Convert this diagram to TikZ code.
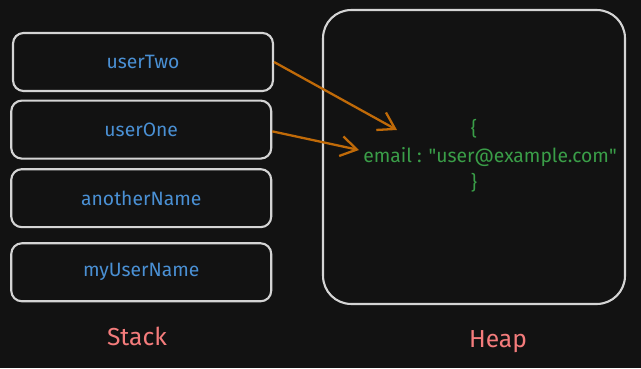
\documentclass[tikz,border=0pt]{standalone}
\usepackage{fontspec}
\setmainfont{Fira Sans}
\usetikzlibrary{arrows.meta,positioning}
\definecolor{bgdark}{HTML}{121212}
\definecolor{boxline}{HTML}{D4D4D4}
\definecolor{varblue}{HTML}{4A90D4}
\definecolor{objgreen}{HTML}{3A9E48}
\definecolor{refarrow}{HTML}{C06A08}
\definecolor{areared}{HTML}{F47C7C}

\begin{document}
\begin{tikzpicture}[
  x=0.02cm, y=-0.02cm,
  font=\fontsize{11}{13}\selectfont,
  slot/.style={draw=boxline, line width=1.2pt, rounded corners=6pt,
               minimum width=5.2cm, minimum height=1.16cm,
               text=varblue, inner sep=0pt},
  heapbox/.style={draw=boxline, line width=1.2pt, rounded corners=16pt,
                  minimum width=6.04cm, minimum height=5.88cm},
  area/.style={text=areared, font=\fontsize{14}{16}\selectfont},
  obj/.style={text=objgreen, inner sep=1pt},
  ref/.style={-{Straight Barb[length=3.2mm,width=4mm]}, refarrow, line width=1.3pt}
]
\useasboundingbox[fill=bgdark] (0,0) rectangle (641,368);
% stack frames
\node[slot] (userTwo) at (143,62) {userTwo};
\node[slot, below=1.5mm of userTwo, xshift=-1pt] (userOne) {userOne};
\node[slot, below=1.7mm of userOne] (anotherName) {anotherName};
\node[slot, below=2.8mm of anotherName] (myUserName) {myUserName};
\node[area] (stack) at (137,336) {Stack};
% heap
\node[heapbox] (heap) at (474,157) {};
\node[obj] (email) at (490,157)
  {email : \textquotedbl user@example.com\textquotedbl};
\node[obj] (open) at (474,129) {\{};
\node[obj] (close) at (474,183) {\}};
\node[area] (heaplbl) at (498,342) {Heap};
% references into the heap
\coordinate (tipTwo) at (397,130);
\coordinate (tipOne) at (359,150);
\draw[ref] (userTwo.east) -- (tipTwo);
\draw[ref] ([yshift=-1pt]userOne.east) -- (tipOne);
\end{tikzpicture}
\end{document}
